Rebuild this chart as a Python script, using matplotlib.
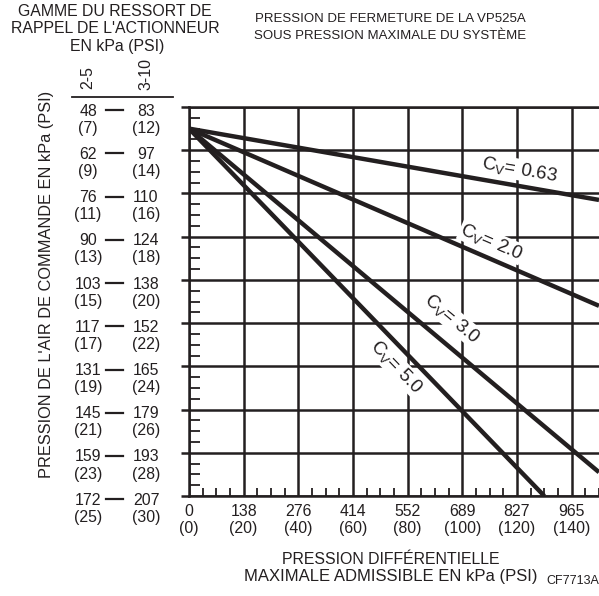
import numpy as np
import matplotlib
matplotlib.use("Agg")
import matplotlib.pyplot as plt
import matplotlib.transforms as mtransforms
from matplotlib.lines import Line2D
from matplotlib.ticker import MultipleLocator

plt.rcParams['font.family'] = ['Liberation Sans', 'DejaVu Sans']
plt.rcParams['mathtext.fontset'] = 'custom'
plt.rcParams['mathtext.rm'] = 'Liberation Sans'
plt.rcParams['mathtext.it'] = 'Liberation Sans:italic'

# ---------------- data ----------------
x_psi_ticks = [0, 20, 40, 60, 80, 100, 120, 140]
x_kpa_labels = ['0', '138', '276', '414', '552', '689', '827', '965']

y_psi_2_5 = [7, 9, 11, 13, 15, 17, 19, 21, 23, 25]
y_kpa_2_5 = ['48', '62', '76', '90', '103', '117', '131', '145', '159', '172']
y_psi_3_10 = [12, 14, 16, 18, 20, 22, 24, 26, 28, 30]
y_kpa_3_10 = ['83', '97', '110', '124', '138', '152', '165', '179', '193', '207']

cv_values = ['0.63', '2.0', '3.0', '5.0']
line_start_x = [0, 0, 0, 0]
line_start_y = [8, 8, 8, 8]
line_end_x = [150, 150, 150, 130]
line_end_y = [11.3, 16.2, 23.9, 25.0]
label_x = [121, 110.6, 96.2, 76]
label_y = [9.9, 13.25, 16.8, 19.05]

INK = '#231f20'
W, H = 599, 596
FS = 11.4

fig = plt.figure(figsize=(W / 100, H / 100), dpi=100)
ax = fig.add_axes([189 / W, 1 - 496 / H, (599 - 189) / W, (496 - 107) / H])
ax.set_xlim(0, 150)
ax.set_ylim(25, 7)

ax.spines['right'].set_visible(False)
for s in ['left', 'top', 'bottom']:
    ax.spines[s].set_color(INK)
    ax.spines[s].set_linewidth(1.8)

ax.set_xticks(x_psi_ticks)
ax.set_yticks(y_psi_2_5)
ax.xaxis.set_minor_locator(MultipleLocator(5))
ax.yaxis.set_minor_locator(MultipleLocator(0.5))
ax.grid(True, which='major', color=INK, linewidth=1.8)
ax.set_axisbelow(True)
ax.tick_params(axis='x', which='major', length=0, labelbottom=False)
ax.tick_params(axis='x', which='minor', direction='in', length=5.5, width=1.3, color=INK)
ax.tick_params(axis='y', which='major', direction='out', length=6, width=1.8, color=INK, labelleft=False)
ax.tick_params(axis='y', which='minor', direction='in', length=8, width=1.3, color=INK)

for i in range(len(cv_values)):
    ax.plot([line_start_x[i], line_end_x[i]], [line_start_y[i], line_end_y[i]],
            color=INK, linewidth=3.2, solid_capstyle='butt', zorder=3)

fig.canvas.draw()
for i, cv in enumerate(cv_values):
    p1 = ax.transData.transform((line_start_x[i], line_start_y[i]))
    p2 = ax.transData.transform((line_end_x[i], line_end_y[i]))
    ang = np.degrees(np.arctan2(p2[1] - p1[1], p2[0] - p1[0]))
    ax.text(label_x[i], label_y[i], r'$\mathregular{C}_\mathregular{V}$= ' + cv, rotation=ang,
            rotation_mode='anchor', ha='center', va='center', fontsize=13.5, color=INK,
            bbox=dict(facecolor='white', edgecolor='none', pad=0.5), zorder=4)

# y tick labels (two columns)
ty = mtransforms.blended_transform_factory(fig.transFigure, ax.transData)
t1 = mtransforms.offset_copy(ty, fig=fig, y=-3.0, units='points')
t2 = mtransforms.offset_copy(ty, fig=fig, y=-15.3, units='points')
td = mtransforms.offset_copy(ty, fig=fig, y=-2.3, units='points')
for i, yv in enumerate(y_psi_2_5):
    ax.text(88 / W, yv, y_kpa_2_5[i], transform=t1, ha='center', va='center', fontsize=FS, color=INK)
    ax.text(88 / W, yv, '(%d)' % yv, transform=t2, ha='center', va='center', fontsize=FS, color=INK)
    ax.text(146 / W, yv, y_kpa_3_10[i], transform=t1, ha='center', va='center', fontsize=FS, color=INK)
    ax.text(146 / W, yv, '(%d)' % y_psi_3_10[i], transform=t2, ha='center', va='center', fontsize=FS, color=INK)
    ax.add_line(Line2D([106 / W, 123 / W], [yv, yv], transform=td, color=INK, linewidth=1.6, clip_on=False))

# x tick labels
tx = mtransforms.blended_transform_factory(ax.transData, fig.transFigure)
for i, xv in enumerate(x_psi_ticks):
    ax.text(xv, 1 - 512 / H, x_kpa_labels[i], transform=tx, ha='center', va='center', fontsize=FS, color=INK)
    ax.text(xv, 1 - 529 / H, '(%d)' % xv, transform=tx, ha='center', va='center', fontsize=FS, color=INK)

# header texts
fig.text(88 / W, 1 - 78 / H, '2-5', rotation=90, ha='center', va='center', fontsize=FS, color=INK)
fig.text(146 / W, 1 - 74 / H, '3-10', rotation=90, ha='center', va='center', fontsize=FS, color=INK)
fig.add_artist(Line2D([72 / W, 173 / W], [1 - 97 / H, 1 - 97 / H], transform=fig.transFigure,
                      color=INK, linewidth=1.3))

fig.text(115 / W, 1 - 11 / H, 'GAMME DU RESSORT DE', ha='center', va='center', fontsize=FS, color=INK)
fig.text(115 / W, 1 - 28.5 / H, "RAPPEL DE L'ACTIONNEUR", ha='center', va='center', fontsize=FS, color=INK)
fig.text(117 / W, 1 - 46 / H, 'EN kPa (PSI)', ha='center', va='center', fontsize=FS, color=INK)

fig.text(390 / W, 1 - 19 / H, 'PRESSION DE FERMETURE DE LA VP525A', ha='center', va='center', fontsize=9.5, color=INK)
fig.text(390 / W, 1 - 36 / H, 'SOUS PRESSION MAXIMALE DU SYSTÈME', ha='center', va='center', fontsize=9.5, color=INK)

fig.text(47 / W, 1 - 284 / H, "PRESSION DE L'AIR DE COMMANDE EN kPa (PSI)", rotation=90,
         ha='center', va='center', fontsize=11.8, color=INK)

fig.text(391 / W, 1 - 559 / H, 'PRESSION DIFFÉRENTIELLE', ha='center', va='center', fontsize=FS, color=INK)
fig.text(391 / W, 1 - 576 / H, 'MAXIMALE ADMISSIBLE EN kPa (PSI)', ha='center', va='center', fontsize=12, color=INK)
fig.text(573 / W, 1 - 581 / H, 'CF7713A', ha='center', va='center', fontsize=9, color=INK)

fig.savefig('out.png', dpi=100)
